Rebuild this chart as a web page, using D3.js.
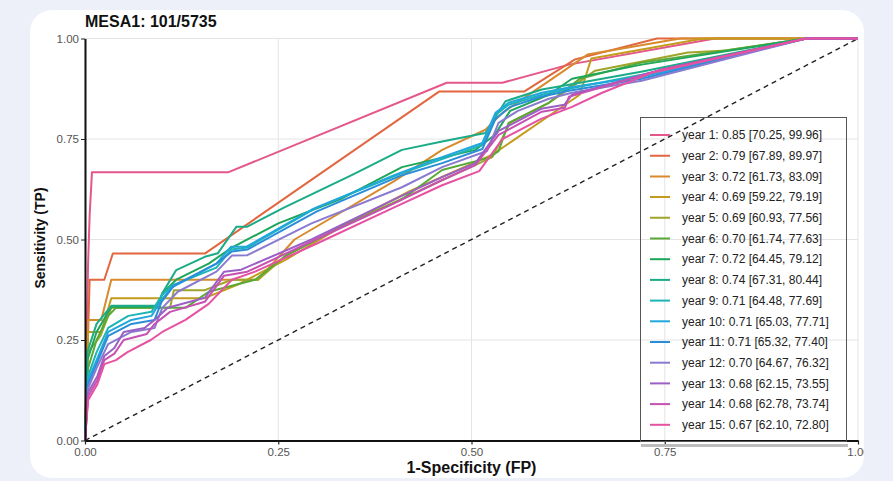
<!DOCTYPE html>
<html>
<head>
<meta charset="utf-8">
<script src="https://cdn.jsdelivr.net/npm/d3@7"></script>
<style>
  body { margin: 0; background: #edf0f8; }
  svg { display: block; font-family: "Liberation Sans", Arial, sans-serif; }
</style>
</head>
<body>
<div id="chart"></div>
<script>
// Chart data
var chartTitle = "MESA1: 101/5735";
var axisTicks = [0, 0.25, 0.5, 0.75, 1];

var yearNames = ["year 1", "year 2", "year 3", "year 4", "year 5", "year 6", "year 7", "year 8",
  "year 9", "year 10", "year 11", "year 12", "year 13", "year 14", "year 15"];
var aucValues = [0.85, 0.79, 0.72, 0.69, 0.69, 0.70, 0.72, 0.74, 0.71, 0.71, 0.71, 0.70, 0.68, 0.68, 0.67];
var ciLow = [70.25, 67.89, 61.73, 59.22, 60.93, 61.74, 64.45, 67.31, 64.48, 65.03, 65.32, 64.67, 62.15, 62.78, 62.10];
var ciHigh = [99.96, 89.97, 83.09, 79.19, 77.56, 77.63, 79.12, 80.44, 77.69, 77.71, 77.40, 76.32, 73.55, 73.74, 72.80];
var yearColors = ["#e4578a", "#e2663f", "#d88a2c", "#c49c1d", "#9da52a", "#5aa937", "#1ea65a", "#1bac87",
  "#1db4b5", "#22a7dd", "#2a8dda", "#8a7ad0", "#9b5fc5", "#c651b2", "#e651a1"];

// ROC points per year: [1-specificity, sensitivity]
var roc01 = [[0,0],[0.004,0.44],[0.006,0.56],[0.009,0.667],[0.185,0.667],[0.468,0.89],[0.54,0.89],[0.626,0.935],[0.815,1],[1,1]];
var roc02 = [[0,0],[0.006,0.40],[0.025,0.40],[0.036,0.465],[0.155,0.465],[0.458,0.868],[0.568,0.868],[0.634,0.948],[0.74,1],[1,1]];
var roc03 = [[0,0],[0.004,0.30],[0.021,0.30],[0.034,0.40],[0.224,0.40],[0.271,0.50],[0.40,0.645],[0.462,0.723],[0.518,0.773],[0.54,0.815],[0.65,0.96],[0.77,1],[1,1]];
var roc04 = [[0,0],[0.004,0.27],[0.021,0.27],[0.034,0.354],[0.155,0.354],[0.20,0.39],[0.26,0.45],[0.33,0.53],[0.42,0.62],[0.527,0.711],[0.64,0.86],[0.655,0.95],[0.80,1],[1,1]];
var roc05 = [[0,0],[0.004,0.22],[0.02,0.26],[0.034,0.33],[0.11,0.33],[0.115,0.374],[0.155,0.374],[0.19,0.40],[0.224,0.40],[0.26,0.46],[0.33,0.53],[0.42,0.61],[0.527,0.705],[0.55,0.79],[0.60,0.84],[0.66,0.92],[0.78,0.965],[0.83,0.97],[0.933,1],[1,1]];
var roc06 = [[0,0],[0.004,0.18],[0.015,0.25],[0.03,0.31],[0.04,0.33],[0.13,0.33],[0.16,0.37],[0.22,0.40],[0.26,0.46],[0.33,0.53],[0.41,0.60],[0.462,0.673],[0.522,0.703],[0.535,0.72],[0.548,0.79],[0.60,0.84],[0.64,0.90],[0.72,0.94],[0.933,1],[1,1]];
var roc07 = [[0,0],[0.003,0.20],[0.015,0.27],[0.034,0.333],[0.094,0.333],[0.10,0.366],[0.118,0.40],[0.16,0.44],[0.19,0.48],[0.25,0.54],[0.33,0.60],[0.41,0.68],[0.505,0.723],[0.53,0.76],[0.55,0.82],[0.60,0.86],[0.63,0.90],[0.72,0.935],[0.933,1],[1,1]];
var roc08 = [[0,0],[0.003,0.22],[0.015,0.29],[0.034,0.335],[0.094,0.335],[0.10,0.366],[0.118,0.424],[0.155,0.457],[0.172,0.466],[0.196,0.532],[0.21,0.532],[0.258,0.58],[0.345,0.66],[0.41,0.723],[0.462,0.744],[0.518,0.765],[0.544,0.844],[0.591,0.873],[0.626,0.885],[0.721,0.918],[0.933,1],[1,1]];
var roc09 = [[0,0],[0.004,0.16],[0.015,0.22],[0.03,0.28],[0.056,0.31],[0.086,0.32],[0.099,0.36],[0.112,0.385],[0.17,0.43],[0.189,0.475],[0.21,0.48],[0.30,0.58],[0.41,0.665],[0.462,0.70],[0.514,0.735],[0.531,0.81],[0.548,0.835],[0.591,0.86],[0.626,0.875],[0.72,0.91],[0.933,1],[1,1]];
var roc10 = [[0,0],[0.004,0.15],[0.015,0.20],[0.03,0.27],[0.06,0.30],[0.086,0.31],[0.099,0.35],[0.112,0.38],[0.17,0.44],[0.189,0.482],[0.209,0.482],[0.293,0.574],[0.40,0.66],[0.462,0.705],[0.514,0.74],[0.531,0.815],[0.548,0.84],[0.591,0.865],[0.626,0.878],[0.72,0.905],[0.933,1],[1,1]];
var roc11 = [[0,0],[0.004,0.14],[0.015,0.19],[0.03,0.26],[0.06,0.29],[0.09,0.30],[0.099,0.345],[0.115,0.385],[0.17,0.44],[0.19,0.47],[0.21,0.475],[0.30,0.57],[0.41,0.66],[0.462,0.69],[0.514,0.725],[0.531,0.80],[0.55,0.83],[0.59,0.855],[0.626,0.87],[0.72,0.90],[0.933,1],[1,1]];
var roc12 = [[0,0],[0.004,0.13],[0.015,0.18],[0.03,0.24],[0.06,0.27],[0.09,0.28],[0.10,0.33],[0.12,0.37],[0.17,0.42],[0.19,0.46],[0.21,0.461],[0.293,0.54],[0.41,0.63],[0.462,0.68],[0.52,0.72],[0.535,0.79],[0.56,0.82],[0.60,0.85],[0.63,0.865],[0.72,0.895],[0.933,1],[1,1]];
var roc13 = [[0,0],[0.004,0.12],[0.016,0.16],[0.025,0.21],[0.038,0.23],[0.05,0.27],[0.077,0.28],[0.09,0.30],[0.107,0.33],[0.155,0.355],[0.18,0.42],[0.202,0.425],[0.293,0.50],[0.40,0.60],[0.462,0.655],[0.505,0.69],[0.535,0.77],[0.59,0.825],[0.62,0.835],[0.63,0.86],[0.75,0.925],[0.933,1],[1,1]];
var roc14 = [[0,0],[0.004,0.11],[0.016,0.15],[0.025,0.20],[0.038,0.216],[0.05,0.25],[0.08,0.265],[0.09,0.29],[0.11,0.32],[0.155,0.345],[0.18,0.41],[0.21,0.42],[0.293,0.495],[0.40,0.59],[0.462,0.648],[0.505,0.685],[0.535,0.76],[0.591,0.818],[0.621,0.828],[0.626,0.855],[0.747,0.923],[0.933,1],[1,1]];
var roc15 = [[0,0],[0.004,0.10],[0.016,0.14],[0.025,0.19],[0.04,0.20],[0.055,0.22],[0.085,0.25],[0.10,0.27],[0.13,0.30],[0.16,0.34],[0.19,0.40],[0.22,0.42],[0.30,0.49],[0.40,0.58],[0.462,0.635],[0.51,0.67],[0.54,0.75],[0.59,0.80],[0.63,0.83],[0.669,0.865],[0.734,0.915],[0.933,1],[1,1]];

var rocCurves = [roc01, roc02, roc03, roc04, roc05, roc06, roc07, roc08, roc09, roc10, roc11, roc12, roc13, roc14, roc15];

// SVG area and plot area
var svg_Width = 893;
var svg_Height = 481;
var plot = { left: 85, right: 858, top: 38.5, bottom: 440.5 };

var svg = d3.select("#chart")
  .append("svg")
  .attr("width", svg_Width)
  .attr("height", svg_Height);

// white card behind the chart, also used to clip it
svg.append("clipPath")
  .attr("id", "cardClip")
  .append("rect")
  .attr("x", 30).attr("y", 10)
  .attr("width", 834).attr("height", 468)
  .attr("rx", 22);

svg.append("rect")
  .attr("x", 30).attr("y", 10)
  .attr("width", 834).attr("height", 468)
  .attr("rx", 22)
  .attr("fill", "#ffffff");

var chart_Group = svg.append("g").attr("clip-path", "url(#cardClip)");

var xScale = d3.scaleLinear().domain([0, 1]).range([plot.left, plot.right]);
var yScale = d3.scaleLinear().domain([0, 1]).range([plot.bottom, plot.top]);

// grid lines
chart_Group.append("g").selectAll("line.h")
  .data(axisTicks)
  .enter().append("line")
  .attr("x1", plot.left).attr("x2", plot.right)
  .attr("y1", d => yScale(d)).attr("y2", d => yScale(d))
  .attr("stroke", "#e4e4e4").attr("stroke-width", 1);

chart_Group.append("g").selectAll("line.v")
  .data(axisTicks)
  .enter().append("line")
  .attr("x1", d => xScale(d)).attr("x2", d => xScale(d))
  .attr("y1", plot.top).attr("y2", plot.bottom)
  .attr("stroke", "#e4e4e4").attr("stroke-width", 1);

// chance diagonal
chart_Group.append("line")
  .attr("x1", xScale(0)).attr("y1", yScale(0))
  .attr("x2", xScale(1)).attr("y2", yScale(1))
  .attr("stroke", "#222").attr("stroke-width", 1.4)
  .attr("stroke-dasharray", "5,4");

// ROC curves
var rocLine = d3.line()
  .x(d => xScale(d[0]))
  .y(d => yScale(d[1]));

chart_Group.selectAll(".roc")
  .data(rocCurves)
  .enter()
  .append("path")
  .attr("class", "roc")
  .attr("d", rocLine)
  .attr("fill", "none")
  .attr("stroke", (d, i) => yearColors[i])
  .attr("stroke-width", 2)
  .attr("stroke-linejoin", "round");

// axes
var fmt = d3.format(".2f");
var left_Axis = d3.axisLeft(yScale).tickValues(axisTicks).tickFormat(fmt).tickSize(4).tickSizeOuter(0).tickPadding(2);
var bottom_Axis = d3.axisBottom(xScale).tickValues(axisTicks).tickFormat(fmt).tickSize(4).tickSizeOuter(0).tickPadding(3);

var yAxisG = chart_Group.append("g")
  .attr("transform", `translate(${plot.left}, 0)`)
  .call(left_Axis);

var xAxisG = chart_Group.append("g")
  .attr("transform", `translate(0, ${plot.bottom})`)
  .call(bottom_Axis);

[yAxisG, xAxisG].forEach(function(g) {
  g.select(".domain").attr("stroke", "#111").attr("stroke-width", 2);
  g.selectAll(".tick line").attr("stroke", "#222").attr("stroke-width", 1.2);
  g.selectAll(".tick text")
    .attr("fill", "#555")
    .style("font-size", "11.5px")
    .style("font-family", "'Liberation Sans', Arial, sans-serif");
});

// legend (transparent box, as in the reference)
var legend = chart_Group.append("g");
legend.append("rect")
  .attr("x", 641).attr("y", 444)
  .attr("width", 207).attr("height", 3)
  .attr("fill", "#bdbdbd");
legend.append("rect")
  .attr("x", 640.5).attr("y", 117.5)
  .attr("width", 206).attr("height", 324)
  .attr("fill", "none")
  .attr("stroke", "#555").attr("stroke-width", 1);

var rows = legend.selectAll(".legrow")
  .data(yearNames)
  .enter().append("g")
  .attr("class", "legrow")
  .attr("transform", (d, i) => `translate(0, ${135 + i * 20.7})`);

rows.append("line")
  .attr("x1", 650).attr("x2", 670)
  .attr("stroke", (d, i) => yearColors[i])
  .attr("stroke-width", 2);

rows.append("text")
  .attr("x", 682)
  .attr("dy", "0.35em")
  .style("font-size", "12px")
  .attr("fill", "#222")
  .text((d, i) => `${d}: ${fmt(aucValues[i])} [${fmt(ciLow[i])}, ${fmt(ciHigh[i])}]`);

// titles
chart_Group.append("text")
  .attr("x", 85).attr("y", 27)
  .style("font-size", "16px").style("font-weight", "bold")
  .attr("fill", "#111")
  .text(chartTitle);

chart_Group.append("text")
  .attr("x", (plot.left + plot.right) / 2).attr("y", 473)
  .attr("text-anchor", "middle")
  .style("font-size", "16px").style("font-weight", "bold")
  .attr("fill", "#111")
  .text("1-Specificity (FP)");

chart_Group.append("text")
  .attr("transform", "rotate(-90)")
  .attr("x", -238).attr("y", 45)
  .attr("text-anchor", "middle")
  .style("font-size", "14px").style("font-weight", "bold")
  .attr("fill", "#111")
  .text("Sensitivity (TP)");
</script>
</body>
</html>
